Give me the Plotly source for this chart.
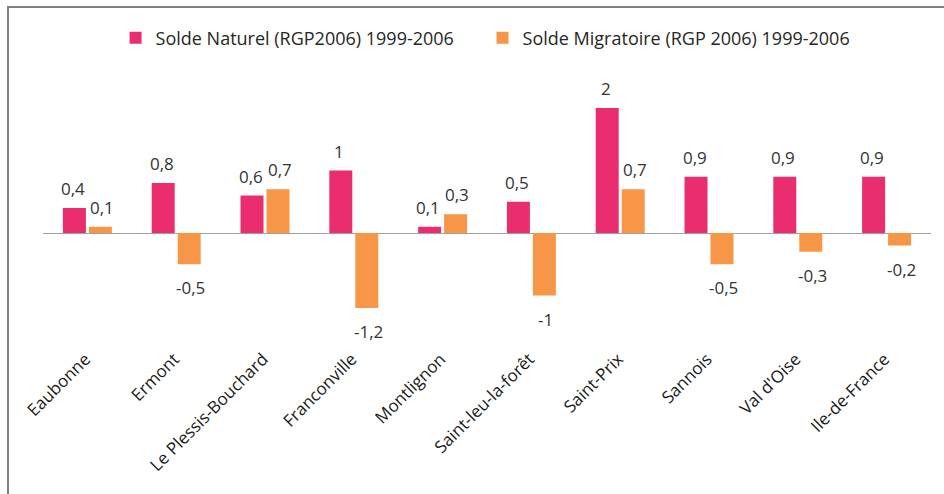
import plotly.graph_objects as go

categories = ["Eaubonne", "Ermont", "Le Plessis-Bouchard", "Franconville", "Montlignon",
              "Saint-leu-la-forêt", "Saint-Prix", "Sannois", "Val d'Oise", "Ile-de-France"]
solde_naturel = [0.4, 0.8, 0.6, 1.0, 0.1, 0.5, 2.0, 0.9, 0.9, 0.9]
solde_migratoire = [0.1, -0.5, 0.7, -1.2, 0.3, -1.0, 0.7, -0.5, -0.3, -0.2]
series_names = ["Solde Naturel (RGP2006) 1999-2006", "Solde Migratoire (RGP 2006) 1999-2006"]

PINK = "#E92D6E"
ORANGE = "#F79646"
FONT = "Open Sans"

fig = go.Figure()
fig.add_trace(go.Bar(x=categories, y=solde_naturel, name=series_names[0],
                     marker=dict(color=PINK, line=dict(width=0))))
fig.add_trace(go.Bar(x=categories, y=solde_migratoire, name=series_names[1],
                     marker=dict(color=ORANGE, line=dict(width=0))))

def fmt(v):
    return ("%g" % v).replace(".", ",")

annotations = []
for vals, xs in ((solde_naturel, -14.5), (solde_migratoire, 14.5)):
    for c, v in zip(categories, vals):
        pos = v >= 0
        annotations.append(dict(
            x=c, y=v, xref="x", yref="y", text=fmt(v), showarrow=False,
            xshift=xs, yshift=6 if pos else -10,
            yanchor="bottom" if pos else "top",
            font=dict(family=FONT, size=17, color="#333333")))

fig.update_layout(
    width=944, height=494,
    margin=dict(l=43, r=13, t=83, b=161, pad=0, autoexpand=False),
    paper_bgcolor="white", plot_bgcolor="white",
    barmode="group", bargap=0.415, bargroupgap=0.115,
    font=dict(family=FONT, size=16, color="#262626"),
    showlegend=True,
    legend=dict(orientation="h", x=0.495, xanchor="center", yref="container",
                y=1 - 38 / 494, yanchor="middle",
                font=dict(family=FONT, size=18, color="#262626"),
                itemwidth=30, traceorder="normal", entrywidth=322),
    annotations=annotations,
    shapes=[dict(type="rect", xref="paper", yref="paper",
                 x0=(8 - 43) / 888, x1=1.05, y0=-0.8, y1=(333 - 7) / 250,
                 line=dict(color="#808080", width=2), layer="below")],
)
fig.update_xaxes(tickangle=-45, showline=False, ticks="", showgrid=False,
                 automargin=False,
                 tickfont=dict(family=FONT, size=17, color="#1a1a1a"),
                 ticklabelstandoff=12, ticklabelshift=-2)
fig.update_yaxes(range=[-1.6, 2.4], showticklabels=False, showgrid=False,
                 automargin=False,
                 zeroline=True, zerolinecolor="#A0A0A0", zerolinewidth=1,
                 showline=False, ticks="")

fig.write_html("out.html", config={"displayModeBar": False},
               post_script="document.body.style.margin='0';document.body.style.overflow='hidden';")
